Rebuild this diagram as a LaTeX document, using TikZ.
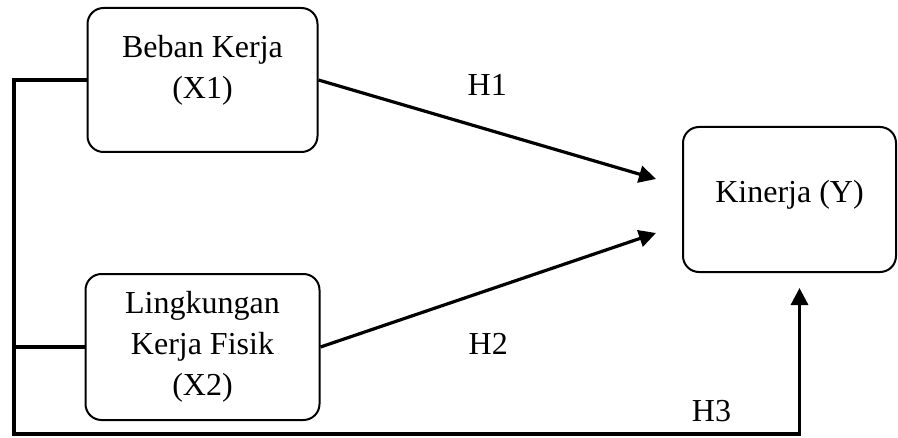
\documentclass[tikz,border=0pt]{standalone}
\usepackage{fontspec}
\setmainfont{Liberation Serif}
\usetikzlibrary{arrows.meta,positioning,calc}

\begin{document}
\begin{tikzpicture}[
    box/.style={draw, rounded corners=8pt, line width=1pt, minimum width=115pt,
                minimum height=72pt, align=center, font=\fontsize{16}{20.5}\selectfont},
    hyp/.style={font=\fontsize{16}{18}\selectfont},
    arrow/.style={-{Triangle[length=8.5pt,width=8.5pt]}, line width=1.6pt},
    link/.style={line width=1.6pt},
]
\useasboundingbox (0,0) rectangle (449pt,-219pt);

% Variables
\node[box, text depth=13pt] (x1) at (101.25pt,-40pt) {Beban Kerja\\(X1)};
\node[box, minimum width=117pt, minimum height=73pt, below=60pt of x1] (x2) {Lingkungan\\Kerja Fisik\\(X2)};
\node[box, minimum width=106.5pt, minimum height=72.5pt, text depth=8pt] (y) at (394.75pt,-99.75pt) {Kinerja (Y)};

% Free ends
\coordinate (bl) at (7pt,-217pt);
\coordinate (h1end) at ($(y.west)+(-13pt,10.25pt)$);
\coordinate (h2end) at ($(y.west)+(-13pt,-16.75pt)$);
\coordinate (h3end) at ($(y.south)+(5pt,-7.5pt)$);

% Hypotheses
\draw[arrow] (x1.east) -- node[hyp, pos=0.5, above=13pt] {H1} (h1end);
\draw[arrow] (x2.east) -- node[hyp, pos=0.5, below=17.5pt] {H2} (h2end);
\draw[arrow] (x1.west) -- (x1.west -| bl) -- (bl)
    -- node[hyp, pos=0.888, above=2pt] {H3} (bl -| h3end) -- (h3end);
\draw[link] (x2.west) -- (x2.west -| bl);

\end{tikzpicture}
\end{document}
